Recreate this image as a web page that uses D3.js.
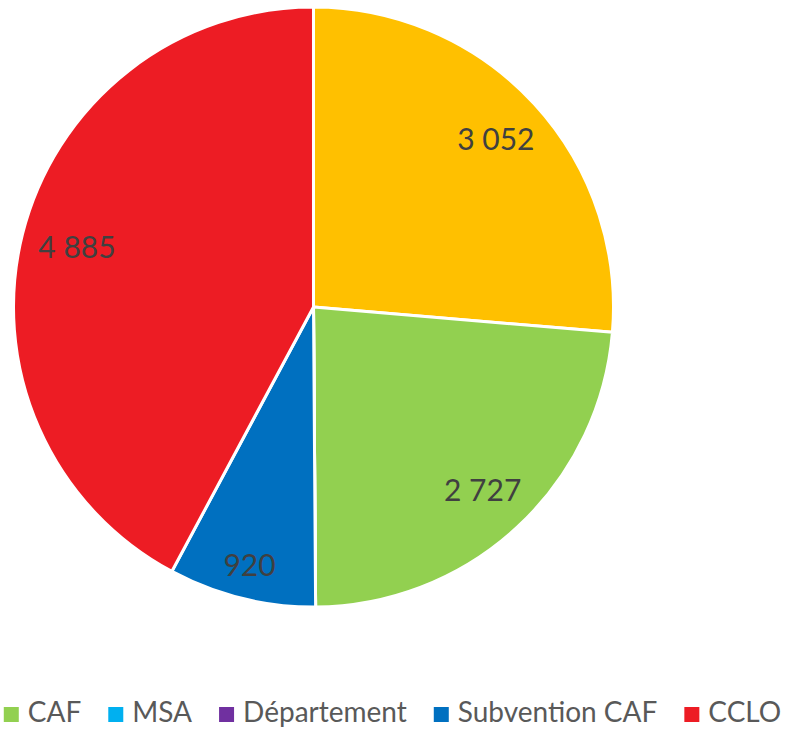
<!DOCTYPE html>
<html>
<head>
<meta charset="utf-8">
<script src="https://cdn.jsdelivr.net/npm/d3@7"></script>
<style>
  html, body { margin: 0; padding: 0; background: #ffffff; }
  svg { display: block; }
</style>
</head>
<body>
<svg id="chart" width="785" height="731"></svg>
<script>
// Slice data, clockwise from 12 o'clock
const categories = ["Autres", "CAF", "MSA", "Département", "Subvention CAF", "CCLO"];
const values = [3052, 2727, 0, 0, 920, 4885];
const colors = ["#FFC000", "#92D050", "#00B0F0", "#7030A0", "#0070C0", "#ED1C24"];
// Categories shown in the legend
const legendCategories = ["CAF", "MSA", "Département", "Subvention CAF", "CCLO"];

const W = 785, H = 731;
const cx = 313.5, cy = 307, R = 300;
const FONT = "Lato, 'Open Sans', sans-serif";

const data = categories.map((c, i) => ({ name: c, value: values[i], color: colors[i] }));

const svg = d3.select("#chart");
const g = svg.append("g").attr("transform", `translate(${cx},${cy})`);

const pie = d3.pie().sort(null).value(d => d.value);
const arcs = pie(data);
const arc = d3.arc().innerRadius(0).outerRadius(R);

g.selectAll("path.slice")
  .data(arcs)
  .join("path")
  .attr("class", "slice")
  .attr("d", arc)
  .attr("fill", d => d.data.color)
  .attr("stroke", "#ffffff")
  .attr("stroke-width", 3)
  .attr("stroke-linejoin", "round");

// Value labels: pushed outward along the bisector until the text box reaches near the rim
const fmt = v => d3.format(",")(v).replace(/,/g, " ");
const labelSize = 30;
const capH = labelSize * 0.72;
const rimLimit = R - 16;

const labels = g.selectAll("text.val")
  .data(arcs.filter(d => d.data.value > 0))
  .join("text")
  .attr("class", "val")
  .attr("text-anchor", "middle")
  .attr("font-family", FONT)
  .attr("font-size", labelSize)
  .attr("fill", "#404040")
  .text(d => fmt(d.data.value));

labels.each(function(d) {
  const w = this.getComputedTextLength();
  const mid = (d.startAngle + d.endAngle) / 2;
  const ux = Math.sin(mid), uy = -Math.cos(mid);
  const far = dist => {
    const px = ux * dist, py = uy * dist;
    let m = 0;
    for (const sx of [-1, 1]) for (const sy of [-1, 1]) {
      const x = px + sx * w / 2, y = py + sy * capH / 2;
      m = Math.max(m, Math.hypot(x, y));
    }
    return m;
  };
  let lo = 0, hi = R;
  for (let k = 0; k < 40; k++) {
    const midD = (lo + hi) / 2;
    if (far(midD) > rimLimit) hi = midD; else lo = midD;
  }
  const px = ux * lo, py = uy * lo;
  d3.select(this).attr("x", px).attr("y", py + capH / 2);
});

// Legend, centred under the pie
const legendSize = 28;
const sq = 15, sqGap = 9, itemGap = 27;
const legendBaseline = 722;
const legend = svg.append("g");
const items = legendCategories.map(name => data.find(d => d.name === name));

const itemG = legend.selectAll("g.item")
  .data(items)
  .join("g")
  .attr("class", "item");

itemG.append("rect")
  .attr("width", sq)
  .attr("height", sq)
  .attr("y", legendBaseline - sq)
  .attr("fill", d => d.color);

itemG.append("text")
  .attr("x", sq + sqGap)
  .attr("y", legendBaseline)
  .attr("font-family", FONT)
  .attr("font-size", legendSize)
  .attr("fill", "#595959")
  .text(d => d.name);

const widths = [];
itemG.each(function() {
  widths.push(sq + sqGap + d3.select(this).select("text").node().getComputedTextLength());
});
const total = d3.sum(widths) + itemGap * (widths.length - 1);
let x0 = W / 2 - total / 2;
itemG.each(function(d, i) {
  d3.select(this).attr("transform", `translate(${x0},0)`);
  x0 += widths[i] + itemGap;
});
</script>
</body>
</html>
